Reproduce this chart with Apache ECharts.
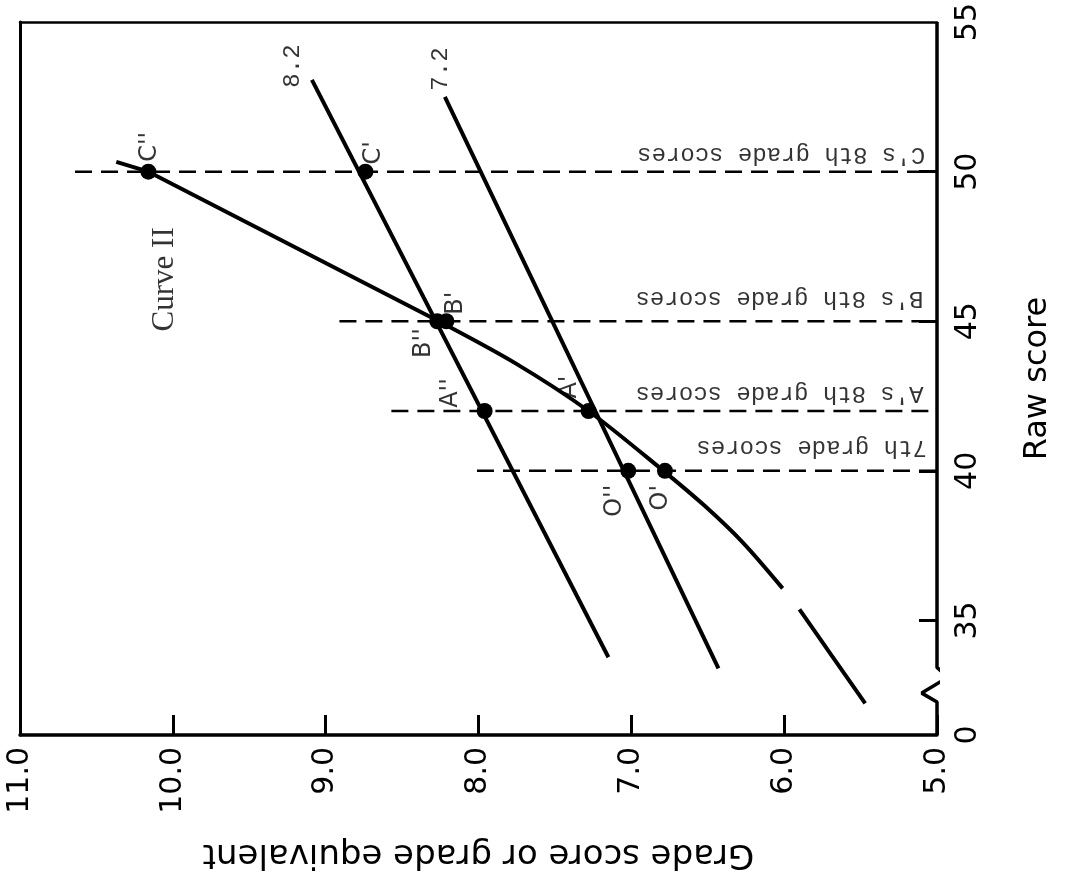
<!DOCTYPE html>
<html lang="en" style="height: 100%">
<head>
    <meta charset="utf-8">
</head>
<body style="height: 100%; margin: 0; background: #fff">
<div id="container" style="width: 1065px; height: 883px"></div>
<script src="https://cdn.jsdelivr.net/npm/echarts@6/dist/echarts.min.js"></script>
<script>
    // grade (horizontal, drawn right-to-left) against raw score (vertical, right side)
    var gradeMin = 5, gradeMax = 11;
    var rawMin = 31.17, rawMax = 55;          // axis starts at a broken "0"
    var rawLabels = [rawMin, 35, 40, 45, 50, 55];
    var rawTicks = [35, 40, 45, 50];

    // straight lines and curve II, as [grade, raw]
    var line82 = [[9.09, 53.07], [7.15, 33.77]];
    var line72 = [[8.22, 52.5], [6.43, 33.4]];
    // curve II: nearly straight down to B'', bending below it, with a break in the print near 36
    var curve2Top = [[10.37, 50.33], [10.16, 50.0], [8.26, 45.0]];
    var curve2Mid = [[8.26, 45.0], [7.76, 43.6], [7.28, 42.0], [6.79, 40.0], [6.52, 38.83],
        [6.27, 37.6], [6.01, 36.07]];
    var curve2Low = [[5.90, 35.37], [5.69, 33.83], [5.47, 32.23]];

    // dashed score lines: raw score and where they stop on the left
    var dashRaw = [50, 45, 42, 40];
    var dashFrom = [10.64, 8.91, 8.57, 8.01];

    // marked points
    var dotNames = ["C''", "C'", "B''", "B'", "A''", "A'", "O''", "O'"];
    var dotGrade = [10.16, 8.74, 8.27, 8.21, 7.96, 7.28, 7.02, 6.78];
    var dotRaw = [50, 50, 45, 45, 42, 42, 40, 40];
    var dotLabelAt = [[10.15, 50.83], [8.685, 50.63], [8.36, 44.27], [8.15, 45.6],
        [8.18, 42.6], [7.40, 42.8], [7.11, 39.0], [6.81, 39.1]];

    // annotations
    var notes = ["C's 8th grade scores", "B's 8th grade scores", "A's 8th grade scores",
        "7th grade scores", "8.2", "7.2"];
    var noteAt = [[6.02, 50.57], [6.03, 45.77], [6.03, 42.6], [5.82, 40.77],
        [9.215, 53.53], [8.246, 53.43]];
    var noteRotate = [180, 180, 180, 180, 90, 90];
    var curveName = 'Curve II';
    var curveNameAt = [10.05, 46.4];

    // right axis with its zigzag break
    var rawAxisPath = [[5, rawMax], [5, 33.43], [4.93, 33.1], [5.1, 32.57], [5, 32.27], [5, rawMin]];

    var black = '#000';
    var sans = 'DejaVu Sans';
    var mono = 'Liberation Mono';
    var serif = 'Liberation Serif';

    var series = [];
    function addLine(data, width, dash, smooth) {
        series.push({
            type: 'line', data: data, symbol: 'none', silent: true, clip: false,
            smooth: smooth || false,
            lineStyle: { color: black, width: width, type: dash || 'solid' }
        });
    }

    addLine(rawAxisPath, 3.5);
    for (var i = 0; i < dashRaw.length; i++) {
        addLine([[dashFrom[i], dashRaw[i]], [gradeMin, dashRaw[i]]], 2.5, [17, 9]);
    }
    addLine(line82, 4);
    addLine(line72, 4);
    addLine(curve2Top, 4);
    addLine(curve2Mid, 4, null, 0.3);
    addLine(curve2Low, 4, null, 0.3);

    series.push({
        type: 'scatter', silent: true, symbolSize: 16,
        itemStyle: { color: black, opacity: 1 },
        data: dotGrade.map(function (g, i) { return [g, dotRaw[i]]; })
    });

    series.push({
        type: 'scatter', silent: true, symbolSize: 1,
        itemStyle: { color: 'rgba(0,0,0,0)' },
        label: {
            show: true, position: 'inside', formatter: '{b}', rotate: 90,
            color: black, fontFamily: sans, fontSize: 24
        },
        data: dotNames.map(function (n, i) { return { name: n, value: dotLabelAt[i] }; })
    });

    series.push({
        type: 'scatter', silent: true, symbolSize: 1,
        itemStyle: { color: 'rgba(0,0,0,0)' },
        label: {
            show: true, position: 'inside', formatter: '{b}',
            color: black, fontFamily: mono, fontSize: 24
        },
        data: notes.map(function (t, i) {
            return { name: t, value: noteAt[i], label: { rotate: noteRotate[i] } };
        }).concat([{
            name: curveName, value: curveNameAt,
            label: { rotate: 90, fontFamily: serif, fontSize: 31 }
        }])
    });

    var chart = echarts.init(document.getElementById('container'));
    chart.setOption({
        backgroundColor: '#fff',
        animation: false,
        grid: { left: 20, right: 128, top: 20, bottom: 148 },
        xAxis: [{
            type: 'value', min: gradeMin, max: gradeMax, interval: 1, inverse: true,
            position: 'bottom',
            name: 'Grade score or grade equivalent', nameLocation: 'middle',
            nameGap: 102, nameRotate: 180,
            nameTextStyle: { color: black, fontFamily: sans, fontSize: 34 },
            axisLine: { onZero: false, lineStyle: { color: black, width: 3.5 } },
            axisTick: { inside: true, length: 20, lineStyle: { color: black, width: 3 } },
            axisLabel: {
                rotate: 90, margin: 12, color: black, fontFamily: sans, fontSize: 30,
                formatter: function (v) { return v.toFixed(1); }
            },
            splitLine: { show: false }
        }, {
            type: 'value', min: gradeMin, max: gradeMax, inverse: true, position: 'top',
            axisLine: { onZero: false, lineStyle: { color: black, width: 2.5 } },
            axisTick: { show: false }, axisLabel: { show: false }, splitLine: { show: false }
        }],
        yAxis: [{
            type: 'value', min: rawMin, max: rawMax, position: 'right',
            name: 'Raw score', nameLocation: 'middle', nameGap: 85, nameRotate: 90,
            nameTextStyle: { color: black, fontFamily: sans, fontSize: 32 },
            axisLine: { show: false },
            axisTick: {
                show: true, inside: true, length: 18, customValues: rawTicks,
                lineStyle: { color: black, width: 3 }
            },
            axisLabel: {
                rotate: 90, margin: 16, color: black, fontFamily: sans, fontSize: 30,
                customValues: rawLabels,
                formatter: function (v) { return v < 32 ? '0' : String(v); }
            },
            splitLine: { show: false }
        }, {
            type: 'value', min: rawMin, max: rawMax, position: 'left',
            axisLine: { show: true, onZero: false, lineStyle: { color: black, width: 3 } },
            axisTick: { show: false }, axisLabel: { show: false }, splitLine: { show: false }
        }],
        series: series
    });
</script>
</body>
</html>
